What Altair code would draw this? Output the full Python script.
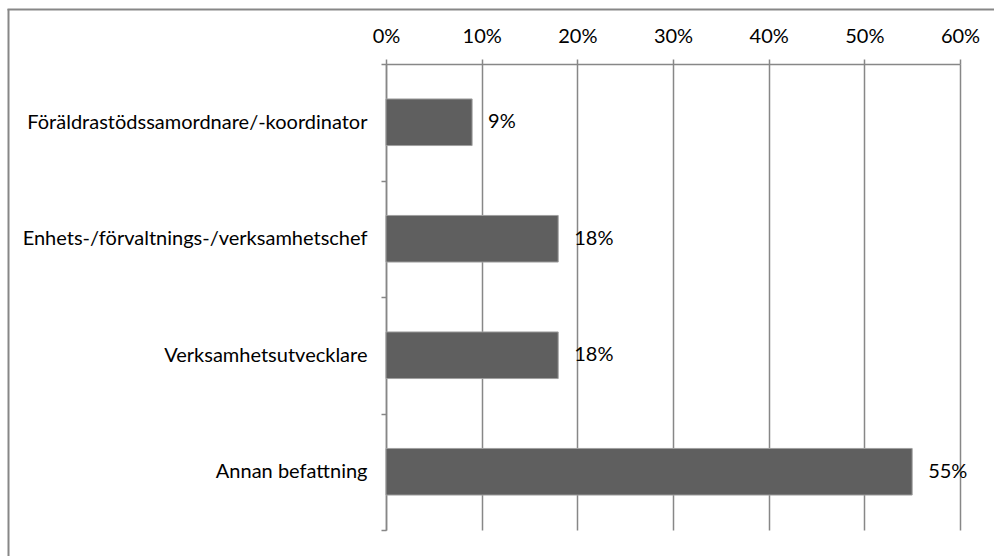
import altair as alt
import pandas as pd

categories = [
    "Föräldrastödssamordnare/-koordinator",
    "Enhets-/förvaltnings-/verksamhetschef",
    "Verksamhetsutvecklare",
    "Annan befattning",
]
values = [0.09, 0.18, 0.18, 0.55]
tick_values = [0, 0.1, 0.2, 0.3, 0.4, 0.5, 0.6]

df = pd.DataFrame({"category": categories, "value": values})

FONT = "Lato"
FS = 20
GRAY = "#878787"

x_scale = alt.Scale(domain=[0, 0.6], nice=False, zero=True)
y_scale = alt.Scale(domain=categories, paddingInner=0, paddingOuter=0)

base = alt.Chart(df)

bars = base.mark_bar(
    height={"band": 0.4}, color="#5f5f5f", stroke="#a0a0a0", strokeWidth=1
).encode(
    x=alt.X(
        "value:Q",
        scale=x_scale,
        axis=alt.Axis(
            orient="top", values=tick_values, format="0%", title=None,
            grid=True, gridColor=GRAY, gridWidth=1.5,
            domainColor=GRAY, domainWidth=1.5,
            tickColor=GRAY, tickWidth=1.5, tickSize=5,
            labelFont=FONT, labelFontSize=FS, labelColor="#000000",
            labelPadding=13, labelFlush=False,
        ),
    ),
    y=alt.Y(
        "category:N",
        scale=y_scale,
        sort=categories,
        axis=alt.Axis(
            title=None, tickBand="extent", grid=False,
            domainColor=GRAY, domainWidth=1.5,
            tickColor=GRAY, tickWidth=1.5, tickSize=5,
            labelFont=FONT, labelFontSize=FS, labelColor="#000000",
            labelPadding=14, labelLimit=400,
        ),
    ),
)

labels = base.mark_text(
    align="left", baseline="middle", dx=16, font=FONT, fontSize=FS, color="#000000"
).encode(
    x=alt.X("value:Q", scale=x_scale),
    y=alt.Y("category:N", scale=y_scale, sort=categories),
    text=alt.Text("value:Q", format=".0%"),
)

frame_data = alt.Data(values=[{"k": 0}])
frame_left = alt.Chart(frame_data).mark_rule(color=GRAY, strokeWidth=2).encode(
    x=alt.value(-377.5), y=alt.value(-55), y2=alt.value(600)
)
frame_top = alt.Chart(frame_data).mark_rule(color=GRAY, strokeWidth=2).encode(
    y=alt.value(-54.5), x=alt.value(-378.5), x2=alt.value(700)
)

chart = alt.layer(bars, labels, frame_left, frame_top).properties(
    width=574,
    height=466,
    autosize=alt.AutoSizeParams(type="none"),
    padding={"left": 386, "top": 64, "right": 34, "bottom": 26},
    background="white",
).configure_view(stroke=None)

chart.save("out.html", embed_options={"renderer": "svg", "actions": False})
